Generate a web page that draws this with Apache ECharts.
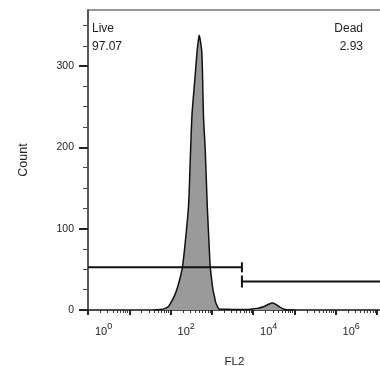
<!DOCTYPE html>
<html>
<head>
<meta charset="utf-8">
<script src="https://cdn.jsdelivr.net/npm/echarts@6/dist/echarts.min.js"></script>
<style>
html,body{margin:0;padding:0;background:#fff;}
#c{width:380px;height:366px;}
</style>
</head>
<body>
<div id="c"></div>
<script>
// FL2 intensity on a log scale: values are log10(FL2)
var fl2Log = [1.60,1.75,1.87,1.96,2.03,2.10,2.17,2.23,2.29,2.36,2.436,2.48,2.52,2.59,2.64,2.67,2.695,2.72,2.76,2.80,2.84,2.89,2.93,2.962,3.00,3.03,3.06,3.09,3.13,3.17,3.25,3.40,3.55,3.70,3.85,3.95,4.10,4.25,4.38,4.46,4.55,4.65,4.75,4.85,5.00];
var counts = [0,0.5,2,5,11,18,28,39,53,85,128,187,240,284,316,330,338,332,316,236,198,128,85,53,36,24,17.5,10,5,1.5,1,1,0.5,0.5,0.5,1,2,4,7,8.5,7,3.5,1,0,0];

// gates (log10 FL2 range, count level)
var gateNames = ['Live', 'Dead'];
var gatePercents = ['97.07', '2.93'];
var gateFrom = [0, 3.73];
var gateTo = [3.73, 7.1];
var gateLevel = [52.5, 35];

// axis ticks
var xMajor = [0,1,2,3,4,5,6,7];
var xLabelled = [0,2,4,6];
var yMajor = [0,100,200,300];
var yMinor = [25,50,75,125,150,175,225,250,275,325,350];

var xMinor = [];
for (var d = 0; d < 7; d++) {
  for (var k = 2; k <= 9; k++) xMinor.push(d + Math.log10(k));
}

var FONT = 'Liberation Sans, Arial, sans-serif';
var TXT = '#222';

var histData = fl2Log.map(function (x, i) { return [x, counts[i]]; });

var chart = echarts.init(document.getElementById('c'));

var gateSeries = [];
gateSeries.push({
  type: 'line', xAxisIndex: 0, yAxisIndex: 0, z: 5,
  data: [
    {value: [gateFrom[0], gateLevel[0]], symbol: 'none'},
    {value: [gateTo[0], gateLevel[0]], symbol: 'rect', symbolSize: [2, 10]}
  ],
  showSymbol: true, showAllSymbol: true,
  lineStyle: {color: '#111', width: 2},
  itemStyle: {color: '#111'},
  silent: true
});
gateSeries.push({
  type: 'line', xAxisIndex: 0, yAxisIndex: 0, z: 5,
  data: [
    {value: [gateFrom[1], gateLevel[1]], symbol: 'rect', symbolSize: [2, 12]},
    {value: [gateTo[1], gateLevel[1]], symbol: 'none'}
  ],
  showSymbol: true, showAllSymbol: true,
  lineStyle: {color: '#111', width: 2},
  itemStyle: {color: '#111'},
  silent: true
});

var option = {
  animation: false,
  backgroundColor: '#fff',
  textStyle: {fontFamily: FONT},
  grid: {left: 88, top: 10, width: 293, height: 300, containLabel: false, outerBoundsMode: 'none',
         show: true, borderColor: '#777', borderWidth: 1.5, backgroundColor: 'transparent'},
  xAxis: [{
    type: 'value', min: 0, max: 7.1,
    name: 'FL2', nameLocation: 'middle', nameGap: 46,
    nameTextStyle: {fontFamily: FONT, fontSize: 11.5, color: TXT},
    axisLine: {show: true, onZero: false, lineStyle: {color: '#333', width: 1.5}},
    axisTick: {show: true, customValues: xMajor, length: 5, lineStyle: {color: '#222', width: 2}},
    axisLabel: {
      customValues: xLabelled, align: 'left', margin: 12, padding: [0,0,0,7],
      formatter: function (v) { return '{b|10}{s|' + Math.round(v) + '}'; },
      rich: {
        b: {fontFamily: FONT, fontSize: 11, color: TXT},
        s: {fontFamily: FONT, fontSize: 9, color: TXT, padding: [0,0,10,0]}
      }
    },
    splitLine: {show: false}
  }, {
    type: 'value', min: 0, max: 7.1, position: 'bottom',
    axisLine: {show: false},
    axisTick: {show: true, customValues: xMinor, length: 3, lineStyle: {color: '#333', width: 1}},
    axisLabel: {show: false},
    splitLine: {show: false}
  }],
  yAxis: [{
    type: 'value', min: 0, max: 369,
    name: 'Count', nameLocation: 'middle', nameGap: 58, nameRotate: 90,
    nameTextStyle: {fontFamily: FONT, fontSize: 12.5, color: TXT},
    axisLine: {show: true, onZero: false, lineStyle: {color: '#444', width: 1.5}},
    axisTick: {show: true, customValues: yMajor, length: 9, lineStyle: {color: '#222', width: 2}},
    axisLabel: {customValues: yMajor, margin: 14, fontFamily: FONT, fontSize: 10.5, color: TXT},
    splitLine: {show: false}
  }, {
    type: 'value', min: 0, max: 369, position: 'left',
    axisLine: {show: false},
    axisTick: {show: true, customValues: yMinor, length: 5, lineStyle: {color: '#444', width: 1}},
    axisLabel: {show: false},
    splitLine: {show: false}
  }],
  graphic: [
    {type: 'text', x: 92, y: 20, z: 10, style: {text: gateNames[0] + '\n' + gatePercents[0], font: '12px ' + FONT, fill: TXT, lineHeight: 17.5, align: 'left'}},
    {type: 'text', x: 363, y: 20, z: 10, style: {text: gateNames[1] + '\n' + gatePercents[1], font: '12px ' + FONT, fill: TXT, lineHeight: 17.5, align: 'right'}}
  ],
  series: [{
    type: 'line', xAxisIndex: 0, yAxisIndex: 0, z: 2,
    data: histData,
    smooth: 0.25,
    symbol: 'none',
    lineStyle: {color: '#111', width: 1.5},
    areaStyle: {color: '#9a9a9a', opacity: 1, origin: 'start'},
    silent: true
  }].concat(gateSeries)
};

chart.setOption(option);
</script>
</body>
</html>
